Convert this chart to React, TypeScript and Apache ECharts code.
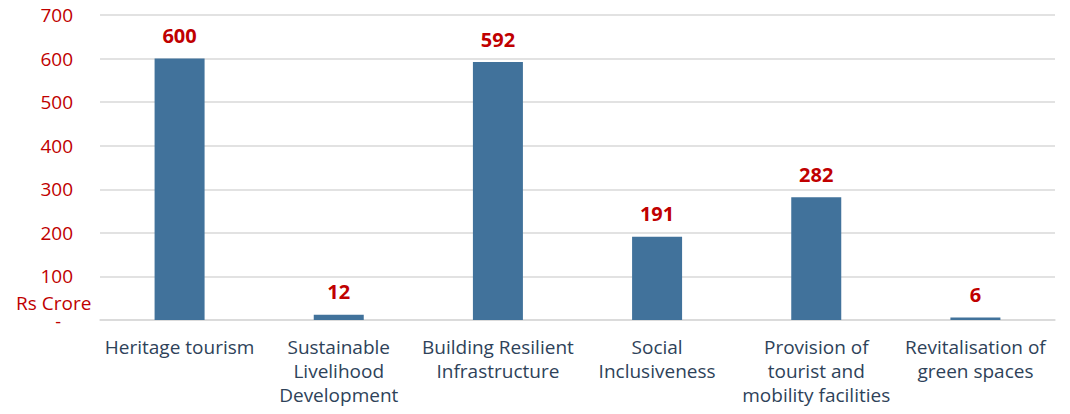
import React, { useEffect, useRef } from "react";
import * as echarts from "echarts";

const categories = [
  "Heritage tourism",
  "Sustainable\nLivelihood\nDevelopment",
  "Building Resilient\nInfrastructure",
  "Social\nInclusiveness",
  "Provision of\ntourist and\nmobility facilities",
  "Revitalisation of\ngreen spaces",
];
const values = [600, 12, 592, 191, 282, 6];
const yTicks = [0, 100, 200, 300, 400, 500, 600, 700];

const RED = "#C00000";
const FONT = "'Open Sans', Lato, sans-serif";

export default function App() {
  const ref = useRef<HTMLDivElement>(null);
  useEffect(() => {
    if (!ref.current) return;
    const chart = echarts.init(ref.current, undefined, { renderer: "svg" });
    chart.setOption({
      animation: false,
      textStyle: { fontFamily: FONT },
      grid: { left: 100, right: 15, top: 15, bottom: 94 },
      graphic: [
        {
          type: "text",
          left: 16,
          top: 293,
          style: { text: "Rs Crore", fill: RED, font: `19px ${FONT}`, lineHeight: 19 },
        },
      ],
      xAxis: {
        type: "category",
        data: categories,
        axisTick: { show: false },
        axisLine: { lineStyle: { color: "#D9D9D9", width: 1.5 } },
        axisLabel: {
          color: "#2E4259",
          fontSize: 19,
          lineHeight: 24,
          margin: 15,
          interval: 0,
          fontFamily: FONT,
        },
      },
      yAxis: {
        type: "value",
        min: yTicks[0],
        max: yTicks[yTicks.length - 1],
        interval: 100,
        axisLine: { show: false },
        axisTick: { show: false },
        splitLine: { lineStyle: { color: "#D9D9D9", width: 1.5 } },
        axisLabel: {
          color: RED,
          fontSize: 19,
          margin: 27,
          fontFamily: FONT,
          formatter: (v: number) => (v === 0 ? "{d|-}" : String(v)),
          rich: {
            d: { color: RED, fontSize: 18, lineHeight: 8, padding: [2, 12, 0, 0] },
          },
        },
      },
      series: [
        {
          type: "bar",
          data: values,
          barWidth: 50,
          itemStyle: { color: "#41729B" },
          label: {
            show: true,
            position: "top",
            distance: 13,
            color: RED,
            fontWeight: "bold",
            fontSize: 20,
            fontFamily: FONT,
          },
        },
      ],
    });
    return () => chart.dispose();
  }, []);
  return <div ref={ref} style={{ width: 1070, height: 414, margin: -8 }} />;
}
